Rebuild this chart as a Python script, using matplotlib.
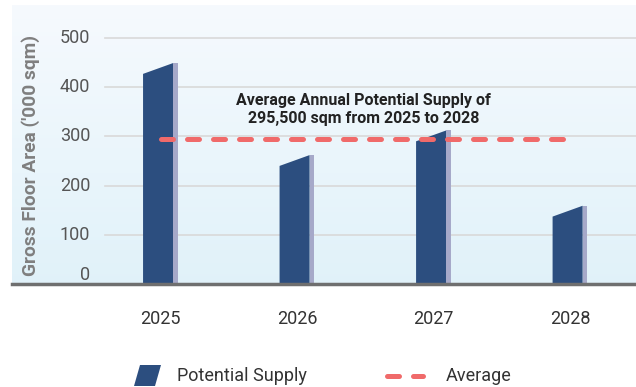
import matplotlib
matplotlib.use("Agg")
import matplotlib.pyplot as plt
import numpy as np
from matplotlib.patches import Polygon, Rectangle
from matplotlib.lines import Line2D
from matplotlib import font_manager

categories = ["2025", "2026", "2027", "2028"]
supply = [449, 262, 312, 159]
average = 295.5
yticks = [0, 100, 200, 300, 400, 500]
annotation = "Average Annual Potential Supply of\n295,500 sqm from 2025 to 2028"
ylabel = "Gross Floor Area ('000 sqm)"
legend_labels = ["Potential Supply", "Average"]

names = {f.name for f in font_manager.fontManager.ttflist}
narrow = "Liberation Sans Narrow" if "Liberation Sans Narrow" in names else "Roboto"
plt.rcParams['font.family'] = [narrow, 'DejaVu Sans']

W, H = 636, 387
fig = plt.figure(figsize=(W / 100, H / 100), dpi=100)

def fx(px):
    return px / W

def fy(py):
    return 1 - py / H

ax = fig.add_axes([fx(12), fy(284), fx(636) - fx(12), fy(5) - fy(284)])
x = np.arange(len(categories))
xmin, xmax = -1.088, 3.483
ymax = 567

# background gradient (top near white, bottom light blue)
grad = np.linspace(0, 1, 256).reshape(-1, 1)
top = np.array([0.965, 0.98, 0.995])
bot = np.array([0.88, 0.948, 0.978])
img = top[None, None, :] * (1 - grad[:, :, None]) + bot[None, None, :] * grad[:, :, None]
ax.imshow(img, extent=[xmin, xmax, 0, ymax], aspect='auto', zorder=0, origin='upper')
ax.set_xlim(xmin, xmax)
ax.set_ylim(0, ymax)

# gridlines
for t in yticks[1:]:
    ax.axhline(t, xmin=(105 - 12) / 624, xmax=1, color='#d9d9d9', lw=1.2, zorder=1)

# bars
front_l, front_r, side_r = -0.128, 0.092, 0.125
slant = 22
for xi, v in zip(x, supply):
    front = Polygon([(xi + front_l, 0), (xi + front_r, 0), (xi + front_r, v),
                     (xi + front_l, v - slant)], closed=True,
                    facecolor='#2c4e7f', edgecolor='none', zorder=3)
    ax.add_patch(front)
    ax.add_patch(Rectangle((xi + front_r, 0), side_r - front_r, v,
                           facecolor='#a6a9c9', edgecolor='none', zorder=3))

# average line
ax.plot([x[0], x[-1]], [average, average], color='#f06a6a', lw=3.6,
        linestyle=(0, (2.4, 2.8)), dash_capstyle='round', zorder=4)

ax.text(1.49, 355, annotation, ha='center', va='center', fontsize=11.5,
        fontweight='bold', color='#222222', linespacing=1.25, zorder=5)

# baseline
ax.axhline(0, color='#6f6f6f', lw=2.5, zorder=6, clip_on=False)

for s in ax.spines.values():
    s.set_visible(False)
ax.set_xticks(x)
ax.set_xticklabels(categories, fontsize=13, color='#333333')
ax.set_yticks([])
ax.tick_params(axis='x', length=0, pad=19)

# y tick labels
for t in yticks:
    ax.text((90 - 160.5) / 136.5, t, str(t), ha='right',
            va='bottom' if t == 0 else 'center', fontsize=13, color='#555555')

fig.text(fx(31), fy(155), ylabel, rotation=90, ha='center', va='center',
         fontsize=13.8, fontweight='bold', color='#7f7f7f')

# legend
poly = Polygon([(fx(134), fy(386)), (fx(155), fy(386)), (fx(161), fy(365)), (fx(140), fy(365))],
               closed=True, transform=fig.transFigure, facecolor='#2c4e7f', edgecolor='none')
fig.add_artist(poly)
fig.text(fx(177), fy(376), legend_labels[0], ha='left', va='center', fontsize=13, color='#333333')
fig.add_artist(Line2D([fx(387), fx(423)], [fy(376), fy(376)], transform=fig.transFigure,
                      color='#f06a6a', lw=3.6, linestyle=(0, (2.4, 2.8)), dash_capstyle='round'))
fig.text(fx(446), fy(376), legend_labels[1], ha='left', va='center', fontsize=13, color='#333333')

fig.savefig("out.png", dpi=100)
